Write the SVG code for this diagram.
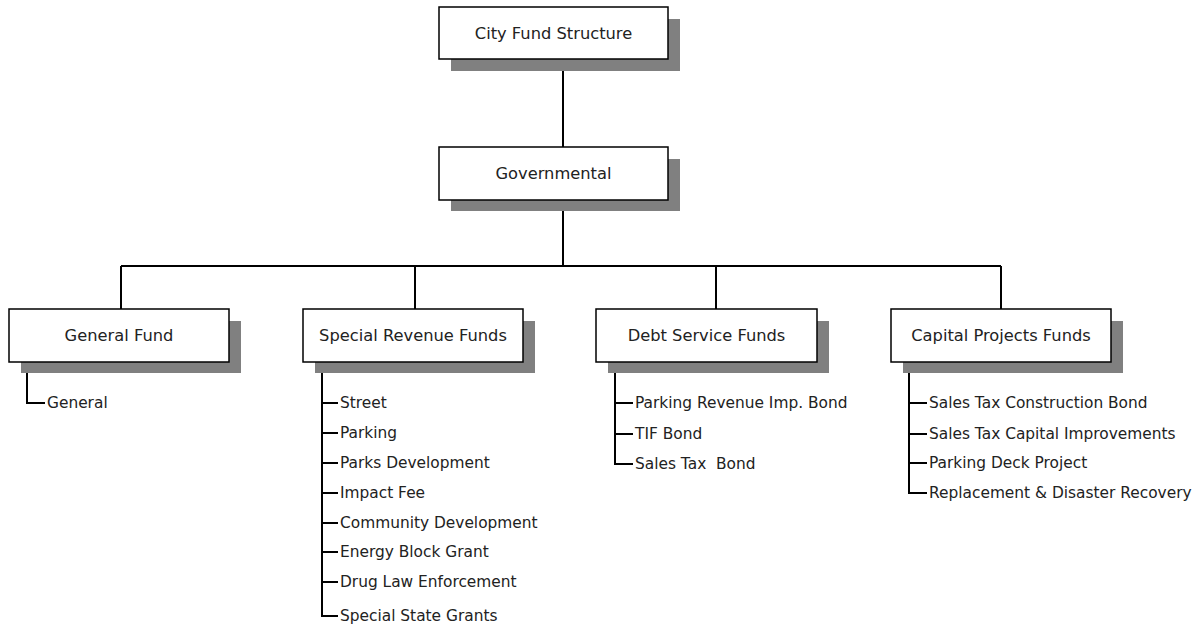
<svg xmlns="http://www.w3.org/2000/svg" width="1200" height="627" viewBox="0 0 1200 627">
<style>
.box{fill:#fff;stroke:#000;stroke-width:1.5}
.sh{fill:#808080}
.t{font-family:"DejaVu Sans","Liberation Sans",sans-serif;font-size:16.3px;fill:#222;text-anchor:middle}
.i{font-family:"DejaVu Sans","Liberation Sans",sans-serif;font-size:15.4px;fill:#222}
.c{fill:none;stroke:#000;stroke-width:2}
</style>
<rect width="1200" height="627" fill="#fff"/>
<g id="connectors">
<path class="c" d="M563 59V147M563 200V266M121 266H1001M121 266V309M415 266V309M716 266V309M1001 266V309"/>
<path class="c" d="M27 362V403H45"/>
<path class="c" d="M322 362V616H338M322 403H338M322 433H338M322 463H338M322 493H338M322 523H338M322 552H338M322 582H338"/>
<path class="c" d="M615 362V464H633M615 403H633M615 434H633"/>
<path class="c" d="M909 362V493H927M909 403H927M909 434H927M909 463H927"/>
</g>
<g id="city">
<rect class="sh" x="451" y="19" width="229" height="52"/>
<rect class="box" x="439" y="7" width="229" height="52"/>
<text class="t" x="553.5" y="39">City Fund Structure</text>
</g>
<g id="governmental">
<rect class="sh" x="451" y="159" width="229" height="52"/>
<rect class="box" x="439" y="147" width="229" height="53"/>
<text class="t" x="553.5" y="179">Governmental</text>
</g>
<g id="general-fund">
<rect class="sh" x="21" y="321" width="220" height="52"/>
<rect class="box" x="9" y="309" width="220" height="53"/>
<text class="t" x="119" y="341">General Fund</text>
<text class="i" x="47" y="408">General</text>
</g>
<g id="special-revenue">
<rect class="sh" x="315" y="321" width="220" height="52"/>
<rect class="box" x="303" y="309" width="220" height="53"/>
<text class="t" x="413" y="341">Special Revenue Funds</text>
<text class="i" x="340" y="408">Street</text>
<text class="i" x="340" y="438">Parking</text>
<text class="i" x="340" y="468">Parks Development</text>
<text class="i" x="340" y="498">Impact Fee</text>
<text class="i" x="340" y="528">Community Development</text>
<text class="i" x="340" y="557">Energy Block Grant</text>
<text class="i" x="340" y="587">Drug Law Enforcement</text>
<text class="i" x="340" y="621">Special State Grants</text>
</g>
<g id="debt-service">
<rect class="sh" x="608" y="321" width="221" height="52"/>
<rect class="box" x="596" y="309" width="221" height="53"/>
<text class="t" x="706.5" y="341">Debt Service Funds</text>
<text class="i" x="635" y="408">Parking Revenue Imp. Bond</text>
<text class="i" x="635" y="439">TIF Bond</text>
<text class="i" x="635" y="469" xml:space="preserve">Sales Tax  Bond</text>
</g>
<g id="capital-projects">
<rect class="sh" x="903" y="321" width="220" height="52"/>
<rect class="box" x="891" y="309" width="220" height="53"/>
<text class="t" x="1001" y="341">Capital Projects Funds</text>
<text class="i" x="929" y="408">Sales Tax Construction Bond</text>
<text class="i" x="929" y="439">Sales Tax Capital Improvements</text>
<text class="i" x="929" y="468">Parking Deck Project</text>
<text class="i" x="929" y="498">Replacement &amp; Disaster Recovery</text>
</g>
</svg>
